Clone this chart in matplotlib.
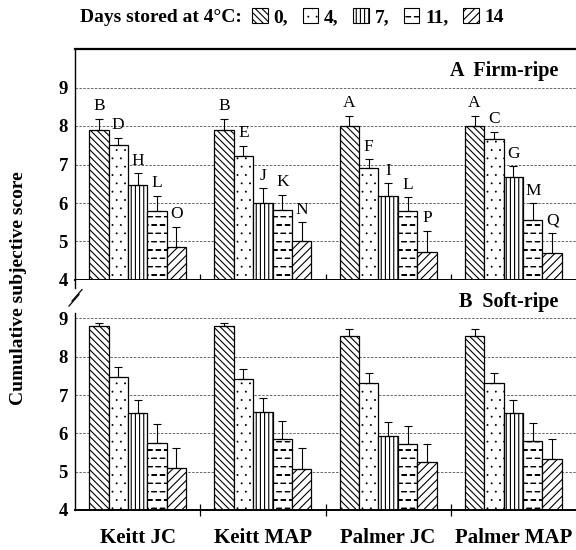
import numpy as np
import matplotlib
matplotlib.use('Agg')
import matplotlib.pyplot as plt
import matplotlib.hatch as mhatch
from matplotlib.path import Path
from matplotlib.patches import Patch

plt.rcParams['font.family'] = 'Liberation Serif'
plt.rcParams['font.weight'] = 'bold'
plt.rcParams['hatch.linewidth'] = 0.8

# ---- data ----
groups = ['Keitt JC', 'Keitt MAP', 'Palmer JC', 'Palmer MAP']
days = ['0,', '4,', '7,', '11,', '14']

# one list per storage time, values for the four groups
firm_means = [[7.90, 7.90, 8.00, 8.00],
              [7.50, 7.21, 6.92, 7.66],
              [6.48, 6.00, 6.17, 6.67],
              [5.78, 5.82, 5.78, 5.57],
              [4.86, 5.00, 4.74, 4.69]]
firm_err = [[0.28, 0.28, 0.26, 0.26],
            [0.20, 0.27, 0.21, 0.19],
            [0.29, 0.38, 0.34, 0.28],
            [0.41, 0.39, 0.37, 0.42],
            [0.52, 0.50, 0.53, 0.53]]
firm_letters = [['B', 'B', 'A', 'A'],
                ['D', 'E', 'F', 'C'],
                ['H', 'J', 'I', 'G'],
                ['L', 'K', 'L', 'M'],
                ['O', 'N', 'P', 'Q']]

soft_means = [[8.80, 8.80, 8.55, 8.55],
              [7.47, 7.41, 7.31, 7.31],
              [6.52, 6.56, 5.94, 6.52],
              [5.76, 5.84, 5.71, 5.81],
              [5.10, 5.08, 5.24, 5.33]]
soft_err = [[0.08, 0.08, 0.17, 0.17],
            [0.25, 0.26, 0.27, 0.27],
            [0.35, 0.36, 0.36, 0.35],
            [0.48, 0.49, 0.48, 0.47],
            [0.52, 0.53, 0.49, 0.51]]


# short staggered dashes as a hatch; takes the place of the 'o' pattern
class DashHatch(mhatch.Shapes):
    size = 1.0
    filled = False
    shape_vertices = np.array([[-0.27, 0.0], [0.27, 0.0]])
    shape_codes = np.array([Path.MOVETO, Path.LINETO])

    def __init__(self, hatch, density):
        self.num_rows = hatch.count('o') * 2 * density
        super().__init__(hatch, density)


# smaller dots than the stock '.' pattern
class FineDots(mhatch.SmallFilledCircles):
    size = 0.05


mhatch._hatch_types[mhatch._hatch_types.index(mhatch.SmallCircles)] = DashHatch
mhatch._hatch_types[mhatch._hatch_types.index(mhatch.SmallFilledCircles)] = FineDots

hatches = ['\\\\\\\\\\', '..', '||||', 'o', '////']

fig = plt.figure(figsize=(5.76, 5.5), dpi=100)
ax_a = fig.add_axes([75 / 576, 1 - 280 / 550, 501 / 576, 231 / 550])
ax_b = fig.add_axes([75 / 576, 1 - 510 / 550, 501 / 576, 230 / 550])

width = 0.155
x = np.arange(len(groups)) + 0.5


def draw_panel(ax, means, errs, letters=None):
    for k in range(len(days)):
        pos = x + (k - 2) * width
        ax.bar(pos, means[k], width, bottom=0, color='white', edgecolor='black',
               linewidth=0.9, hatch=hatches[k], zorder=2)
        ax.errorbar(pos, means[k], yerr=[np.zeros(len(groups)), errs[k]], fmt='none',
                    ecolor='black', elinewidth=0.8, capsize=3, capthick=0.8, zorder=3)
        if letters is not None:
            for p, m, e, t in zip(pos, means[k], errs[k], letters[k]):
                ax.text(p, m + e + 0.12, t, ha='center', va='bottom',
                        fontsize=12.5, fontweight='normal')
    ax.set_xlim(0, 4)
    ax.set_ylim(4, 10)
    ax.set_yticks([4, 5, 6, 7, 8, 9])
    ax.set_yticklabels(['4', '5', '6', '7', '8', '9'], fontsize=13.5)
    ax.tick_params(axis='y', length=0, pad=5)
    ax.set_xticks([1, 2, 3])
    ax.set_xticklabels([])
    ax.tick_params(axis='x', which='major', direction='inout', length=8, width=0.9)
    ax.set_xticks(x, minor=True)
    ax.tick_params(axis='x', which='minor', length=0)
    for yv in [5, 6, 7, 8, 9]:
        ax.axhline(yv, color='0.4', linestyle=(0, (2.5, 1.5)), linewidth=0.7, zorder=1)
    ax.spines['right'].set_visible(False)
    ax.spines['bottom'].set_linewidth(1.4)
    ax.spines['left'].set_linewidth(1.0)


draw_panel(ax_a, firm_means, firm_err, firm_letters)
draw_panel(ax_b, soft_means, soft_err)

ax_a.spines['top'].set_linewidth(1.6)
ax_b.spines['top'].set_visible(False)
ax_b.set_xticklabels(groups, minor=True, fontsize=15)
ax_b.tick_params(axis='x', which='minor', pad=13)

ax_a.text(0.964, 0.905, 'A  Firm-ripe', transform=ax_a.transAxes,
          ha='right', va='center', fontsize=14.5)
ax_b.text(0.964, 0.904, 'B  Soft-ripe', transform=ax_b.transAxes,
          ha='right', va='center', fontsize=14.5)

# axis break on the lower panel
ax_b.spines['left'].set_bounds(4, 9.15)
trans = ax_b.get_yaxis_transform()
ax_b.plot([0, 0], [9.78, 10], color='black', lw=1.0, transform=trans, clip_on=False)
ax_b.plot([-0.012, 0.008], [9.32, 9.62], color='black', lw=0.9, transform=trans, clip_on=False)
ax_b.plot([-0.006, 0.014], [9.45, 9.75], color='black', lw=0.9, transform=trans, clip_on=False)

fig.text(0.032, 0.476, 'Cumulative subjective score', rotation=90,
         ha='center', va='center', fontsize=14)

# legend row at the top
fig.text(80 / 576, 1 - 17 / 550, 'Days stored at 4°C:', ha='left', va='center', fontsize=14)
handles = [Patch(facecolor='white', edgecolor='black', linewidth=0.8, hatch=h) for h in hatches]
fig.legend(handles, days, loc='center left', bbox_to_anchor=(252 / 576, 1 - 17 / 550),
           ncol=5, frameon=False, fontsize=14, handlelength=0.8, handleheight=0.8,
           handletextpad=0.3, columnspacing=0.75, borderpad=0, borderaxespad=0)

fig.savefig('out.png', dpi=100)
